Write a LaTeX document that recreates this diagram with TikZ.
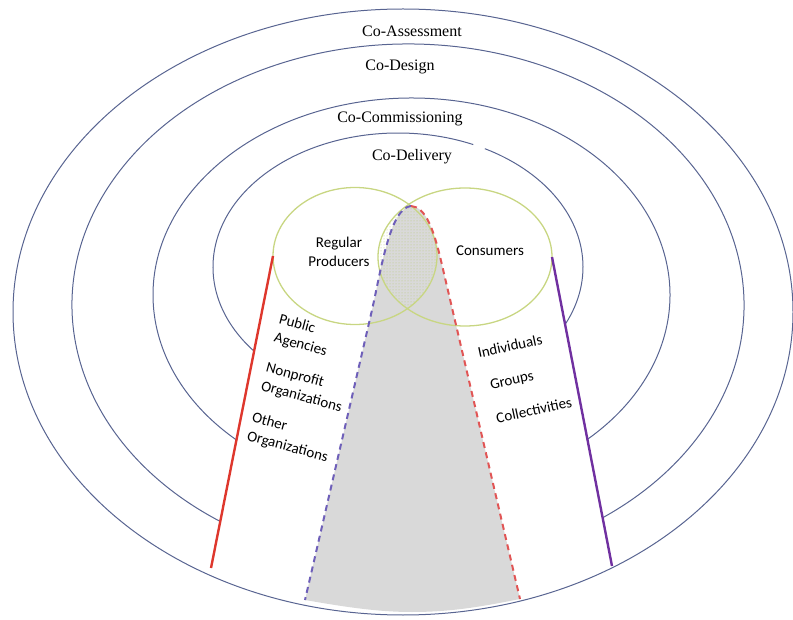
\documentclass[tikz,border=0pt]{standalone}
\usepackage{fontspec}
\setmainfont{Liberation Serif}
\newfontfamily\calib{Carlito}
\usetikzlibrary{patterns}
\definecolor{ringblue}{RGB}{88,100,145}
\definecolor{venngreen}{RGB}{200,214,130}
\definecolor{dotgreen}{RGB}{185,200,120}
\definecolor{sidered}{RGB}{222,55,45}
\definecolor{sidepurple}{RGB}{112,48,160}
\definecolor{dashpurple}{RGB}{110,95,185}
\definecolor{dashred}{RGB}{225,85,85}
\definecolor{conegray}{RGB}{217,217,217}
\tikzset{ring/.style={draw=ringblue,line width=1pt},
         venn/.style={draw=venngreen,line width=1.3pt},
         edge/.style={line width=2.4pt},
         coneedge/.style={line width=2pt,dash pattern=on 6pt off 4.5pt},
         ringlabel/.style={font=\fontsize{16}{18}\selectfont,inner sep=1pt},
         tag/.style={font=\calib\fontsize{15}{19}\selectfont,align=left,inner sep=0pt}}

\begin{document}
\begin{tikzpicture}[x=1pt,y=-1pt]
  \useasboundingbox (0,0) rectangle (793,620);
  % shared region
  \coordinate (apex) at (411,206);
  \coordinate (lbase) at (305,600);
  \coordinate (rbase) at (520,599);
  \fill[conegray] (lbase) -- (372,310) .. controls (381,270) and (390,208) .. (apex)
      .. controls (426,207) and (434,230) .. (442,265) -- (rbase)
      .. controls (480,607) and (450,612) .. (412,612) .. controls (375,612) and (340,606) .. (lbase) -- cycle;
  \begin{scope}
    \clip (355,256) ellipse [x radius=82, y radius=68.5];
    \fill[pattern=dots, pattern color=dotgreen] (465,257) ellipse [x radius=87, y radius=69];
  \end{scope}
  % rings
  \draw[ring] (403,312) ellipse [x radius=390, y radius=303];
  \begin{scope}
    \clip (-10,-10) -- (805,-10) -- (805,700) -- (638,700) -- (552,257) -- (273,256) -- (185,700) -- (-10,700) -- cycle;
    \foreach \cx/\cy/\rx/\ry/\a/\b in {408/305/336/261/120/418, 411.5/295/258.5/197/129/411,
                                       398/267/185/134/139/294, 398/267/185/134/298/389}
      \draw[ring] (\cx,\cy) ++({\rx*cos(\a)},{\ry*sin(\a)}) arc [start angle=\a, end angle=\b, x radius=\rx, y radius=\ry];
  \end{scope}
  % producers and consumers
  \draw[venn] (355,256) ellipse [x radius=82, y radius=68.5];
  \draw[venn] (465,257) ellipse [x radius=87, y radius=69];
  \coordinate (redtop) at (273,256);
  \coordinate (redbot) at (211,568);
  \coordinate (purtop) at (552,257);
  \coordinate (purbot) at (612,566);
  \draw[edge,sidered] (redtop) -- (redbot);
  \draw[edge,sidepurple] (purtop) -- (purbot);
  \draw[coneedge,dashpurple] (apex) .. controls (390,208) and (381,270) .. (372,310) -- (lbase);
  \draw[coneedge,dashred] (apex) .. controls (426,207) and (434,230) .. (442,265) -- (rbase);
  % labels
  \node[ringlabel] (assess) at (412,31) {Co-Assessment};
  \node[ringlabel] (design) at (400,67) {Co-Design};
  \node[ringlabel] (commis) at (400,119) {Co-Commissioning};
  \node[ringlabel] (deliv) at (412,157) {Co-Delivery};
  \node[tag,align=center] (prod) at (339,252) {Regular\\Producers};
  \node[tag] (cons) at (490,251) {Consumers};
  \node[tag,rotate=-15] (pub) at (303,336) {Public\\Agencies};
  \node[tag,rotate=-15] (nonp) at (304,388) {Nonprofit\\Organizations};
  \node[tag,rotate=-15] (other) at (290,438) {Other\\Organizations};
  \node[tag,rotate=12] (indiv) at (510,346) {Individuals};
  \node[tag,rotate=12] (groups) at (512,381) {Groups};
  \node[tag,rotate=12] (coll) at (534,410) {Collectivities};
\end{tikzpicture}
\end{document}
